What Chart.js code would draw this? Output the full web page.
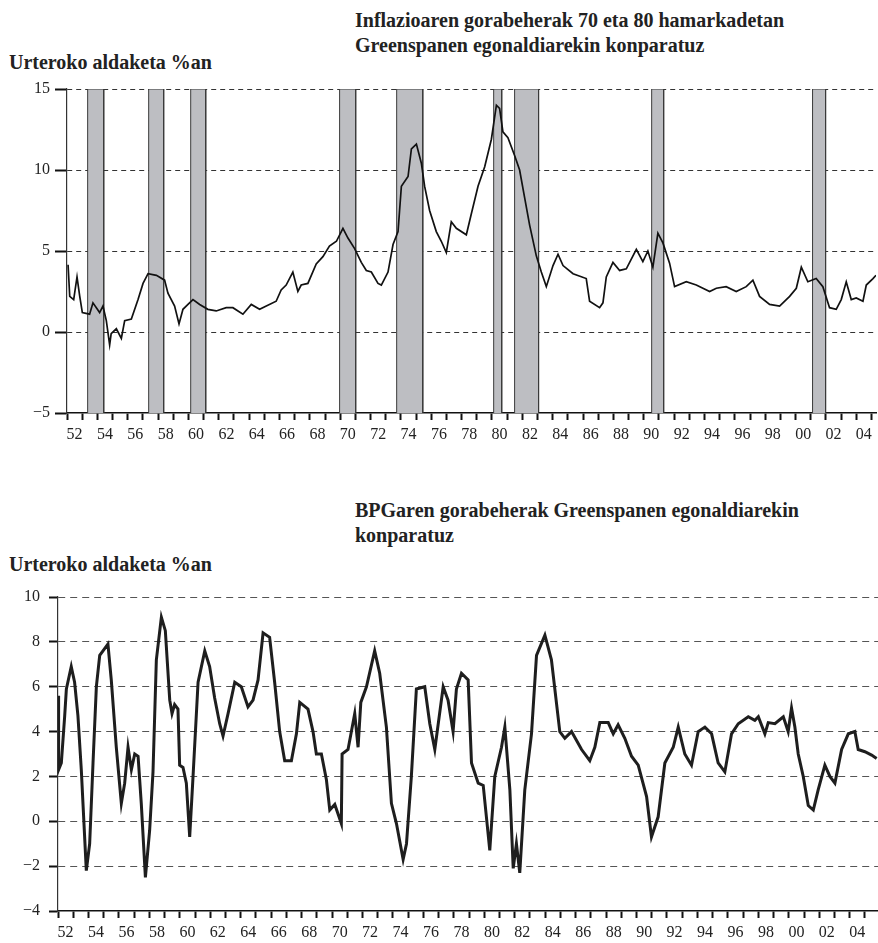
<!DOCTYPE html>
<html>
<head>
<meta charset="utf-8">
<script src="https://cdn.jsdelivr.net/npm/chart.js@4.4.0/dist/chart.umd.min.js"></script>
<style>
  body { margin: 0; background: #fff; width: 878px; height: 943px; position: relative; overflow: hidden; font-family: 'Liberation Serif', serif; color: #222; }
  .t { position: absolute; font-weight: bold; font-size: 20px; line-height: 25px; white-space: nowrap; }
  canvas { position: absolute; left: 0; }
</style>
</head>
<body>
<div class="t" style="left:355px;top:8px">Inflazioaren gorabeherak 70 eta 80 hamarkadetan<br>Greenspanen egonaldiarekin konparatuz</div>
<div class="t" style="left:9px;top:50px">Urteroko aldaketa %an</div>
<canvas id="inflazioa" style="top:0" width="878" height="460"></canvas>

<div class="t" style="left:355px;top:498px">BPGaren gorabeherak Greenspanen egonaldiarekin<br>konparatuz</div>
<div class="t" style="left:9px;top:552px">Urteroko aldaketa %an</div>
<canvas id="bpg" style="top:460px" width="878" height="483"></canvas>

<script>
// inflazioa (urteroko aldaketa %) - urteak eta balioak
const inflYears = [1952.07,1952.18,1952.44,1952.66,1952.84,1953.01,1953.49,1953.71,1954.15,1954.37,1954.59,1954.81,1954.91,
  1955.25,1955.58,1955.8,1956.24,1956.68,1957.01,1957.34,1957.89,1958.43,1958.65,1959.09,1959.38,1959.64,1959.97,
  1960.3,1960.74,1961.28,1961.83,1962.49,1962.93,1963.59,1964.14,1964.69,1965.13,1965.78,1966.11,1966.44,1966.88,
  1967.21,1967.43,1967.87,1968.42,1968.86,1969.29,1969.75,1970.18,1970.51,1970.95,1971.39,1971.72,1972.05,1972.49,1972.71,
  1973.15,1973.48,1973.81,1974.03,1974.47,1974.69,1975.02,1975.35,1975.56,1975.89,1976.33,1976.66,1976.99,1977.32,1977.65,
  1978.31,1978.64,1979.08,1979.52,1979.96,1980.29,1980.5,1980.72,1981.05,1981.49,1981.82,1982.15,1982.48,1982.92,
  1983.25,1983.58,1984.02,1984.35,1984.68,1985.34,1986.21,1986.43,1987.09,1987.31,1987.53,1987.97,1988.41,1988.85,
  1989.51,1989.94,1990.27,1990.6,1990.93,1991.26,1991.7,1992.03,1992.8,1993.46,1994.34,1994.78,1995.43,1996.09,1996.75,
  1997.19,1997.63,1998.29,1998.95,1999.61,2000.05,2000.38,2000.81,2001.36,2001.8,2002.24,2002.68,2003.01,2003.34,2003.67,
  2004.0,2004.44,2004.66,2005.1,2005.3]
const inflValues = [4.15,2.2,2.0,3.4,2.2,1.2,1.1,1.8,1.2,1.6,0.7,-0.8,-0.1,
  0.2,-0.4,0.7,0.8,2.0,3.0,3.6,3.5,3.2,2.4,1.6,0.5,1.4,1.7,
  2.0,1.7,1.4,1.3,1.5,1.5,1.1,1.7,1.4,1.6,1.9,2.6,2.9,3.7,
  2.5,2.9,3.0,4.2,4.65,5.3,5.6,6.4,5.8,5.15,4.3,3.8,3.7,3.0,2.9,
  3.7,5.4,6.2,9.0,9.6,11.3,11.6,10.4,9.0,7.5,6.2,5.6,4.9,6.8,6.4,
  6.0,7.3,9.0,10.2,11.9,14.0,13.8,12.35,12.0,10.9,10.0,8.3,6.6,4.7,
  3.7,2.8,4.1,4.8,4.1,3.6,3.3,1.9,1.5,1.8,3.4,4.3,3.8,3.9,
  5.1,4.35,5.0,4.0,6.1,5.5,4.25,2.8,3.1,2.9,2.5,2.7,2.8,2.5,2.8,
  3.2,2.2,1.7,1.6,2.2,2.7,4.0,3.1,3.3,2.8,1.5,1.4,2.0,3.1,2.0,
  2.1,1.9,2.9,3.3,3.5]

// atzeraldiak (barra grisak)
const recessionStart = [1953.36,1957.38,1960.15,1969.96,1973.72,1980.11,1981.49,1990.52,2001.12]
const recessionEnd   = [1954.42,1958.37,1961.14,1971.02,1975.44,1980.64,1983.07,1991.31,2001.98]

// BPG (urteroko aldaketa %)
const gdpYears = [1952.0,1952.04,1952.22,1952.44,1952.55,1952.87,1953.09,1953.31,1953.53,1953.86,1954.08,1954.3,1954.52,1954.74,
  1955.28,1955.5,1955.83,1956.16,1956.38,1956.6,1956.82,1957.04,1957.26,1957.47,1957.74,1958.02,1958.24,1958.46,1958.79,
  1959.05,1959.34,1959.49,1959.66,1959.88,1959.99,1960.21,1960.43,1960.65,1960.87,1961.2,1961.64,1961.96,1962.29,1962.62,
  1962.84,1963.17,1963.61,1964.04,1964.48,1964.81,1965.14,1965.47,1965.9,1966.23,1966.56,1966.89,1967.33,1967.66,1967.88,
  1968.42,1968.75,1968.97,1969.3,1969.63,1969.85,1970.18,1970.61,1970.66,1971.05,1971.49,1971.71,1971.89,1972.26,1972.8,
  1973.13,1973.57,1973.9,1974.23,1974.67,1974.89,1975.21,1975.54,1976.09,1976.42,1976.75,1977.3,1977.62,1977.95,1978.17,
  1978.5,1978.94,1979.16,1979.6,1979.93,1980.36,1980.69,1981.13,1981.35,1981.68,1981.9,1982.11,1982.33,1982.66,1983.1,
  1983.43,1983.98,1984.41,1984.96,1985.29,1985.73,1986.39,1986.93,1987.26,1987.59,1988.14,1988.47,1988.79,1989.23,1989.67,
  1990.11,1990.66,1990.98,1991.42,1991.86,1992.41,1992.74,1993.17,1993.61,1994.05,1994.49,1994.93,1995.36,1995.8,1996.24,
  1996.68,1997.34,1997.77,1998.0,1998.43,1998.65,1999.09,1999.64,1999.96,2000.18,2000.4,2000.62,2000.95,2001.28,2001.61,
  2001.93,2002.37,2002.7,2003.03,2003.47,2003.91,2004.34,2004.56,2005.0,2005.44,2005.77]
const gdpValues = [5.6,2.3,2.6,4.7,5.9,6.9,6.2,4.7,2.3,-2.2,-1.0,2.6,6.0,7.4,
  7.9,6.3,3.3,0.8,1.7,3.3,2.3,3.0,2.9,0.8,-2.5,-0.4,2.2,7.2,9.1,
  8.5,5.4,4.8,5.2,5.0,2.5,2.4,1.7,-0.7,2.0,6.2,7.6,6.9,5.5,4.35,
  3.8,4.8,6.2,6.0,5.1,5.4,6.3,8.4,8.2,6.2,4.0,2.7,2.7,3.9,5.3,
  5.0,4.0,3.0,3.0,1.85,0.5,0.75,-0.1,3.0,3.2,4.8,3.3,5.3,6.0,7.6,
  6.6,4.2,0.8,-0.1,-1.7,-1.0,2.0,5.9,6.0,4.35,3.2,6.0,5.4,4.0,5.9,
  6.6,6.3,2.6,1.7,1.6,-1.3,2.0,3.3,4.2,1.4,-2.1,-1.0,-2.3,1.4,3.9,
  7.4,8.3,7.2,4.0,3.7,4.0,3.2,2.7,3.3,4.4,4.4,3.9,4.3,3.7,2.9,
  2.5,1.1,-0.7,0.2,2.6,3.3,4.2,3.0,2.5,4.0,4.2,3.9,2.6,2.2,3.9,
  4.35,4.66,4.5,4.66,3.9,4.4,4.35,4.66,4.0,5.05,4.2,3.0,2.0,0.7,0.5,
  1.4,2.5,2.0,1.7,3.2,3.9,4.0,3.2,3.1,2.95,2.8]

// ardatz horizontaleko marka: urte bakoitzeko bat, etiketa urte bikoitietan
const tickYears = []
for (let y = 1952; y <= 2005; y++) tickYears.push(y)
const yearLabel = (v) => (v % 2 === 0 ? String(v % 100).padStart(2, '0') : '')
const numLabel = (v) => (v < 0 ? '\u2212' + Math.abs(v) : String(v))

Chart.defaults.font.family = "'Liberation Serif', serif"
Chart.defaults.color = '#222'

const xAxis = (min, max, height) => ({
  type: 'linear', min: min, max: max,
  afterBuildTicks: axis => { axis.ticks = tickYears.map(v => ({ value: v })) },
  afterFit: axis => { axis.height = height },
  grid: { drawOnChartArea: false, drawTicks: true, tickLength: 7, tickWidth: 2, tickColor: '#111', tickBorderDash: [] },
  border: { color: '#111', width: 1.6 },
  ticks: { autoSkip: false, maxRotation: 0, labelOffset: 7.6, padding: 5, font: { size: 16 }, callback: v => yearLabel(v) }
})

const yAxis = (min, max, step, width, tickLen, pad, dash, gridColor) => ({
  min: min, max: max,
  afterBuildTicks: axis => {
    const t = []
    for (let v = min; v <= max; v += step) t.push({ value: v })
    axis.ticks = t
  },
  afterFit: axis => { axis.width = width },
  grid: {
    color: ctx => (ctx.tick && ctx.tick.value === min ? 'rgba(0,0,0,0)' : gridColor),
    lineWidth: 1, tickLength: tickLen, tickWidth: 2, tickColor: '#111', tickBorderDash: []
  },
  border: { color: '#333', width: 1.2, dash: dash },
  ticks: { padding: pad, font: { size: 16 }, callback: v => numLabel(v) }
})

const baseOptions = {
  responsive: false,
  animation: false,
  events: [],
  plugins: { legend: { display: false }, tooltip: { enabled: false } }
}

// --- 1. grafikoa: inflazioa ---
const inflData = inflYears.map((x, i) => ({ x: x, y: inflValues[i] }))
const inflSets = [{
  data: inflData, borderColor: '#111', borderWidth: 1.7, pointRadius: 0, tension: 0, fill: false, order: 0
}]
recessionStart.forEach((s, i) => {
  const e = recessionEnd[i]
  inflSets.push({
    data: [{ x: s, y: -5 }, { x: s, y: 15 }, { x: e, y: 15 }, { x: e, y: -5 }],
    borderColor: '#3a3a3a', borderWidth: 1, backgroundColor: '#bdbec2',
    pointRadius: 0, tension: 0, fill: { value: -5 }, order: 1
  })
})

new Chart(document.getElementById('inflazioa'), {
  type: 'line',
  data: { datasets: inflSets },
  options: Object.assign({}, baseOptions, {
    layout: { padding: { top: 89, right: 2, left: 0, bottom: 7 } },
    scales: {
      x: xAxis(1952, 2005.3, 40),
      y: yAxis(-5, 15, 5, 67, 12, 5, [5, 4], '#333')
    }
  })
})

// --- 2. grafikoa: BPG ---
const gdpData = gdpYears.map((x, i) => ({ x: x, y: gdpValues[i] }))

new Chart(document.getElementById('bpg'), {
  type: 'line',
  data: {
    datasets: [{
      data: gdpData, borderColor: '#1e1e1e', borderWidth: 3, pointRadius: 0, tension: 0, fill: false
    }]
  },
  options: Object.assign({}, baseOptions, {
    layout: { padding: { top: 137, right: 0, left: 0, bottom: 2 } },
    scales: {
      x: xAxis(1952, 2005.86, 30),
      y: yAxis(-4, 10, 2, 58, 9, 9, [7, 5], '#555')
    }
  })
})
</script>
</body>
</html>
